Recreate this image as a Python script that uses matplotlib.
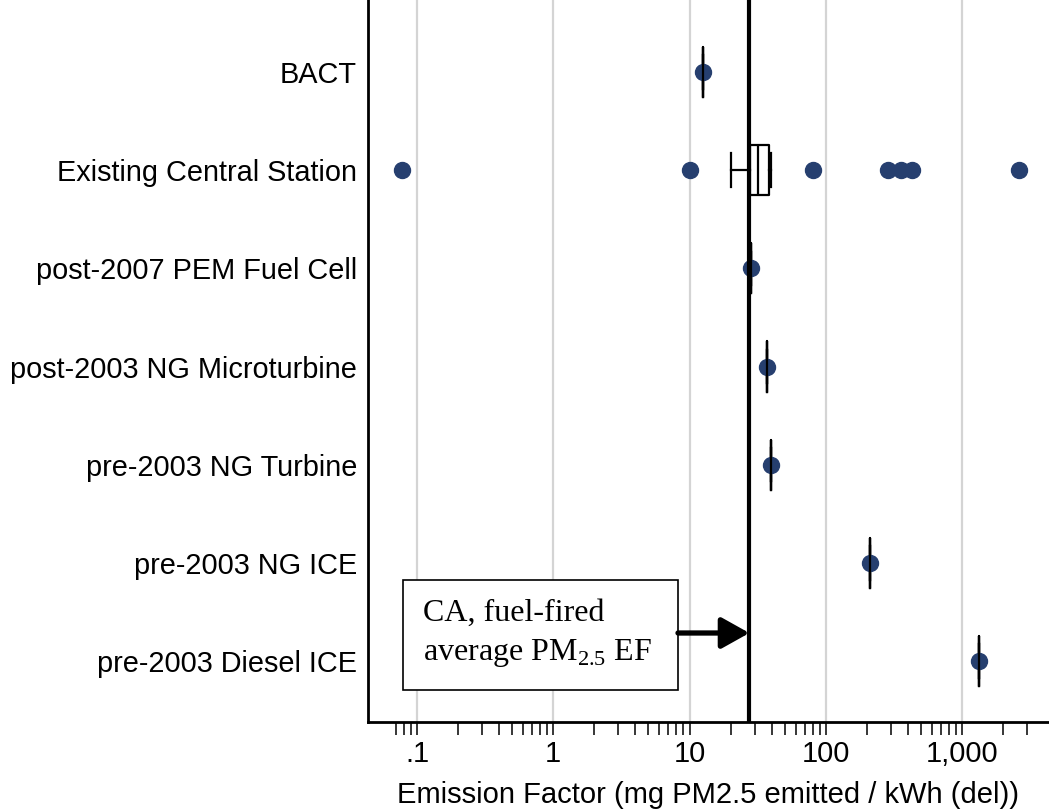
import numpy as np
import matplotlib
matplotlib.use("Agg")
import matplotlib.pyplot as plt
from matplotlib.patches import Rectangle, ArrowStyle
from matplotlib.ticker import FixedLocator, NullFormatter

plt.rcParams['font.family'] = ['Liberation Sans', 'DejaVu Sans']
plt.rcParams['mathtext.fontset'] = 'custom'
plt.rcParams['mathtext.rm'] = 'Liberation Serif'

# technologies, top row first
categories = ['BACT', 'Existing Central Station', 'post-2007 PEM Fuel Cell',
              'post-2003 NG Microturbine', 'pre-2003 NG Turbine',
              'pre-2003 NG ICE', 'pre-2003 Diesel ICE']

# box summaries, mg PM2.5 / kWh delivered
whisker_lo = [12.6, 20.2, 28.1, 37.2, 39.6, 210, 1340]
quartile_1 = [12.6, 27.7, 28.1, 37.2, 39.6, 210, 1340]
medians = [12.6, 31.7, 28.1, 37.2, 39.6, 210, 1340]
quartile_3 = [12.6, 38.3, 28.1, 37.2, 39.6, 210, 1340]
whisker_hi = [12.6, 39.6, 28.1, 37.2, 39.6, 210, 1340]
points = [[12.6], [0.078, 10, 81, 287, 358, 431, 2610], [28.1], [37.2],
          [39.6], [210], [1340]]

ca_average = 27.5

major_ticks = [0.1, 1, 10, 100, 1000]
major_labels = ['.1', '1', '10', '100', '1,000']
minor_ticks = ([0.07, 0.08, 0.09] + [m * 0.1 for m in range(2, 10)]
               + list(range(2, 10)) + [m * 10 for m in range(2, 10)]
               + [m * 100 for m in range(2, 10)] + [2000, 3000])

navy = '#263f6f'

fig = plt.figure(figsize=(10.49, 8.09), dpi=100)
ax = fig.add_axes([0.3508, 0.1075, 0.6492, 0.8925])

positions = np.arange(len(categories))[::-1]

stats = []
for i, name in enumerate(categories):
    stats.append(dict(label=name, whislo=whisker_lo[i], q1=quartile_1[i],
                      med=medians[i], q3=quartile_3[i], whishi=whisker_hi[i],
                      fliers=points[i]))

line_kw = dict(color='black', linewidth=1.6)
ax.bxp(stats, positions=positions, orientation='horizontal', widths=0.51,
       capwidths=0.34, showfliers=True,
       boxprops=line_kw, whiskerprops=line_kw, capprops=line_kw,
       medianprops=line_kw,
       flierprops=dict(marker='o', markersize=11.5, markerfacecolor=navy,
                       markeredgecolor=navy, linestyle='none'),
       zorder=3)

ax.axvline(ca_average, color='black', linewidth=3.0, zorder=5)

ax.set_xscale('log')
ax.set_xlim(0.04368, 4350)
ax.set_ylim(-0.621, 6.733)

ax.xaxis.set_major_locator(FixedLocator(major_ticks))
ax.set_xticklabels(major_labels)
ax.xaxis.set_minor_locator(FixedLocator(minor_ticks))
ax.xaxis.set_minor_formatter(NullFormatter())
ax.tick_params(axis='x', which='both', direction='out', length=9, width=1.1,
               labelsize=21, pad=4)
ax.set_yticks(positions)
ax.set_yticklabels(categories)
ax.tick_params(axis='y', length=0, pad=8, labelsize=20.8)

ax.grid(axis='x', which='major', color='#d4d4d4', linewidth=1.6, zorder=0)
ax.set_axisbelow(True)

for side in ['top', 'right']:
    ax.spines[side].set_visible(False)
for side in ['left', 'bottom']:
    ax.spines[side].set_linewidth(2.0)

ax.set_xlabel('Emission Factor (mg PM2.5 emitted / kWh (del))', fontsize=21,
              labelpad=9)

# callout for the statewide average
ax.add_patch(Rectangle((0.0514, 0.0443), 0.4038, 0.1524, transform=ax.transAxes,
                       facecolor='white', edgecolor='black', linewidth=1.2,
                       zorder=6))
ax.text(0.0808, 0.1398, 'CA, fuel-fired', transform=ax.transAxes,
        family='Liberation Serif', fontsize=23, va='baseline', zorder=7)
ax.text(0.0808, 0.0858, 'average PM$_{2.5}$ EF', transform=ax.transAxes,
        family='Liberation Serif', fontsize=23, va='baseline', zorder=7)
ax.annotate('', xy=(ca_average, 0.1233), xycoords=('data', 'axes fraction'),
            xytext=(0.4552, 0.1233), textcoords='axes fraction',
            arrowprops=dict(arrowstyle=ArrowStyle('-|>', head_length=17,
                                                  head_width=9.5),
                            mutation_scale=1, color='black', linewidth=3.8,
                            shrinkA=0, shrinkB=0),
            zorder=7)

fig.savefig('out.png', dpi=100)
